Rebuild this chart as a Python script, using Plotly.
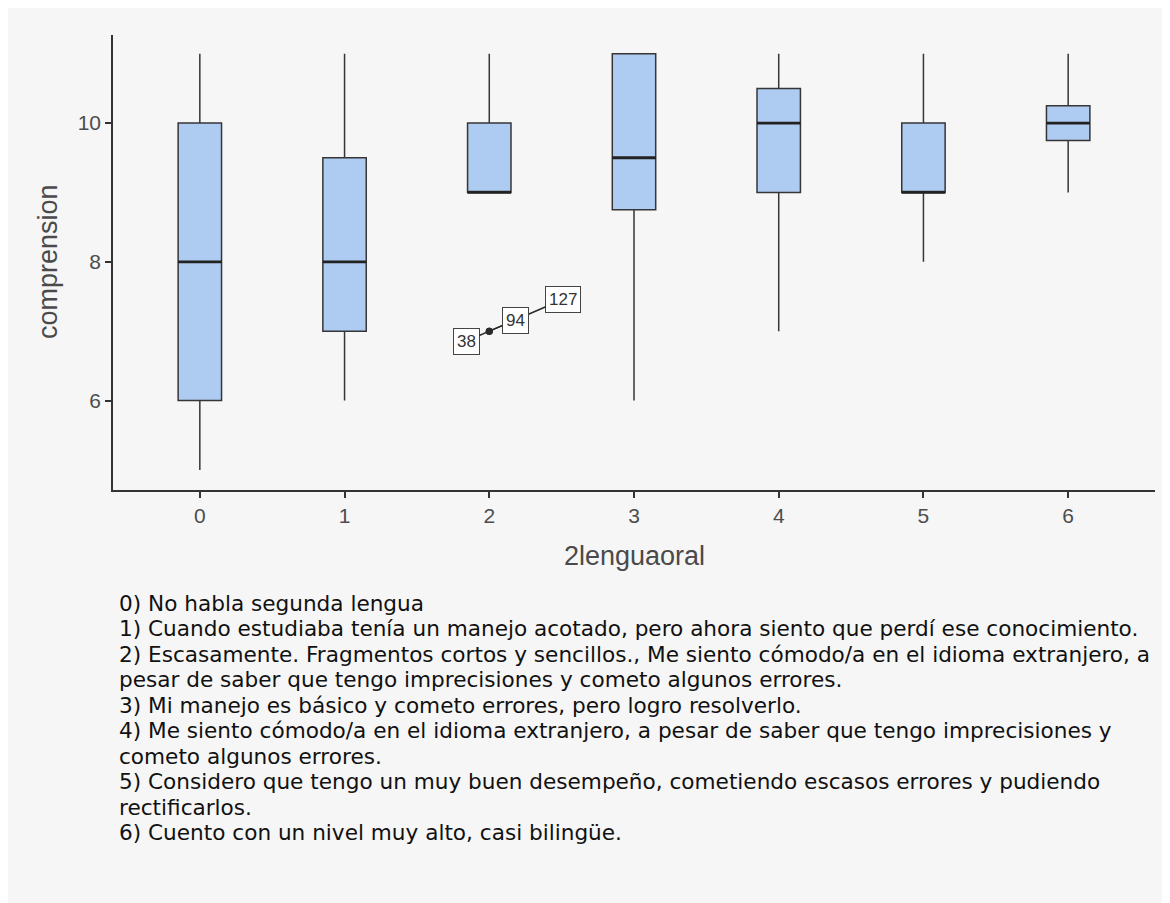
import plotly.graph_objects as go

categories = [0, 1, 2, 3, 4, 5, 6]
lower_fence = [5, 6, 9, 6, 7, 8, 9]
q1 = [6, 7, 9, 8.75, 9, 9, 9.75]
median = [8, 8, 9, 9.5, 10, 9, 10]
q3 = [10, 9.5, 10, 11, 10.5, 10, 10.25]
upper_fence = [11, 11, 11, 11, 11, 11, 11]

outlier_x = [2, 2, 2]
outlier_y = [7, 7, 7]
outlier_ids = ["38", "127", "94"]
label_offsets = [(-23, 10), (74, -32), (26, -11)]  # pixel offsets of labels

tick_vals_y = [6, 8, 10]
x_title = "2lenguaoral"
y_title = "comprension"

notes = [
    "0) No habla segunda lengua",
    "1) Cuando estudiaba tenía un manejo acotado, pero ahora siento que perdí ese conocimiento.",
    "2) Escasamente. Fragmentos cortos y sencillos., Me siento cómodo/a en el idioma extranjero, a",
    "pesar de saber que tengo imprecisiones y cometo algunos errores.",
    "3) Mi manejo es básico y cometo errores, pero logro resolverlo.",
    "4) Me siento cómodo/a en el idioma extranjero, a pesar de saber que tengo imprecisiones y",
    "cometo algunos errores.",
    "5) Considero que tengo un muy buen desempeño, cometiendo escasos errores y pudiendo",
    "rectificarlos.",
    "6) Cuento con un nivel muy alto, casi bilingüe.",
]

OFF = 8  # page body margin
W, H = 1170 - OFF, 903 - OFF
L, R, T, B = 113 - OFF, 1155 - OFF, 35 - OFF, 490 - OFF
BG = "#f6f6f6"
BOXW = 0.3

fig = go.Figure()
fig.add_trace(go.Box(
    x=categories, q1=q1, median=median, q3=q3,
    lowerfence=lower_fence, upperfence=upper_fence,
    width=BOXW, whiskerwidth=0,
    fillcolor="#aecbf1", line=dict(color="#363636", width=1.5),
    boxpoints=False, hoverinfo="skip", showlegend=False,
))

mx, my = [], []
for c, m in zip(categories, median):
    mx += [c - BOXW / 2, c + BOXW / 2, None]
    my += [m, m, None]
fig.add_trace(go.Scatter(x=mx, y=my, mode="lines",
                         line=dict(color="#222222", width=2.8),
                         hoverinfo="skip", showlegend=False))

fig.add_trace(go.Scatter(x=outlier_x, y=outlier_y, mode="markers",
                         marker=dict(color="#2a2a2a", size=7),
                         hoverinfo="skip", showlegend=False))

for xv, yv, lab, (ax, ay) in zip(outlier_x, outlier_y, outlier_ids, label_offsets):
    fig.add_annotation(x=xv, y=yv, xref="x", yref="y", text=lab,
                       showarrow=True, ax=ax, ay=ay, arrowhead=0, arrowwidth=1.5,
                       arrowcolor="#2a2a2a", standoff=0,
                       bgcolor="white", bordercolor="#444444", borderwidth=1,
                       borderpad=3,
                       font=dict(family="Liberation Sans, Arial", size=17, color="#333333"))

ph = B - T
pw = R - L
def py(ypix):
    return (B - (ypix - OFF)) / ph
def px(xpix):
    return ((xpix - OFF) - L) / pw

line_y0 = 603
line_step = 25.5
for i, t in enumerate(notes):
    fig.add_annotation(x=px(117), y=py(line_y0 + i * line_step), xref="paper", yref="paper",
                       text=t, showarrow=False, xanchor="left", yanchor="middle",
                       font=dict(family="DejaVu Sans", size=21.6, color="#111111"))

fig.add_annotation(x=px(634), y=py(556),
                   xref="paper", yref="paper", text=x_title, showarrow=False,
                   xanchor="center", yanchor="middle",
                   font=dict(family="Liberation Sans, Arial", size=27, color="#4a4a4a"))
fig.add_annotation(x=px(48), y=py(262), xref="paper", yref="paper", text=y_title,
                   showarrow=False, textangle=-90, xanchor="center", yanchor="middle",
                   font=dict(family="Liberation Sans, Arial", size=27, color="#4a4a4a"))

axis_common = dict(showgrid=False, zeroline=False, showline=True, linecolor="#333333", linewidth=1.5,
                   ticks="outside", ticklen=6, tickwidth=1.5, tickcolor="#333333",
                   tickfont=dict(family="Liberation Sans, Arial", size=21, color="#4d4d4d"))
fig.update_xaxes(range=[-0.6, 6.6], tickvals=categories, ticktext=[str(c) for c in categories],
                 **axis_common)
fig.update_yaxes(range=[4.71, 11.27], tickvals=tick_vals_y, **axis_common)

fig.update_layout(width=W, height=H, margin=dict(l=L, r=W - R, t=T, b=H - B, autoexpand=False),
                  paper_bgcolor=BG, plot_bgcolor=BG, showlegend=False)

fig.write_html("out.html")
